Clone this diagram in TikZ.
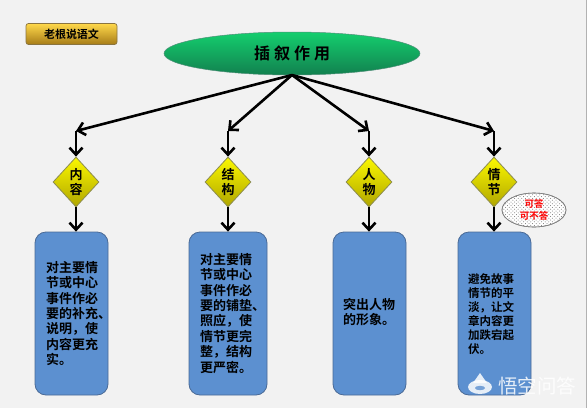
\documentclass[tikz,border=0pt]{standalone}
\usepackage{fontspec}
\newfontfamily\cjk{Noto Sans CJK SC}[BoldFont={Noto Sans CJK SC Bold}]
\usetikzlibrary{shapes.geometric,arrows.meta,shadings}
\definecolor{bg}{HTML}{F2F2F2}
\definecolor{cardblue}{HTML}{5C90D0}
\definecolor{cardedge}{HTML}{4A6A96}
\definecolor{ytop}{HTML}{FBF800}
\definecolor{ymid}{HTML}{EDE800}
\definecolor{ybot}{HTML}{B0A600}
\definecolor{yedge}{HTML}{8C8C50}
\definecolor{gtop}{HTML}{14CF6E}
\definecolor{gmid}{HTML}{12B562}
\definecolor{gbot}{HTML}{12804F}
\definecolor{gedge}{HTML}{4F8F78}
\definecolor{btop}{HTML}{FFD84A}
\definecolor{bmid}{HTML}{ECB428}
\definecolor{bbot}{HTML}{A67C18}
\definecolor{bedge}{HTML}{8A7440}
\tikzset{
  x=1pt,y=-1pt,
  conn/.style={line width=2.6pt,draw=black,-{Straight Barb[length=7pt,width=13pt,line width=2.6pt]}},
  dia/.style={diamond,draw=yedge,line width=0.8pt,top color=ytop,middle color=ymid,bottom color=ybot,minimum width=46pt,minimum height=50pt,inner sep=0pt,align=center,font=\cjk\bfseries\fontsize{13}{15}\selectfont,text=black},
  card/.style={rounded corners=11pt,draw=cardedge,line width=0.8pt,fill=cardblue,minimum width=73pt,minimum height=163pt,inner sep=0pt},
  cardtext/.style={align=left,inner sep=0pt,text=black,font=\cjk\bfseries\fontsize{13}{15.4}\selectfont},
  spot/.style={ellipse,draw=black!50,line width=0.6pt,minimum width=64pt,minimum height=34pt,inner sep=0pt},
}
\begin{document}
\begin{tikzpicture}
\useasboundingbox (0,0) rectangle (587,408);
\fill[bg] (0,0) rectangle (587,408);
\fill[black!30] (585.5,0) rectangle (587,408);
% title button
\node[draw=bedge,line width=0.7pt,rounded corners=2.5pt,top color=btop,middle color=bmid,bottom color=bbot,minimum width=91pt,minimum height=21pt,inner sep=0pt,font=\cjk\bfseries\fontsize{11}{12}\selectfont] (btn) at (71.5,34) {老根说语文};
% ellipse
\node[ellipse,draw=gedge,line width=0.5pt,top color=gtop,middle color=gmid,bottom color=gbot,minimum width=256pt,minimum height=43pt,inner sep=0pt,font=\cjk\bfseries\fontsize{16}{18}\selectfont] (main) at (292,53.5) {插\hspace{4pt}叙\hspace{4pt}作\hspace{4pt}用};
\coordinate (hub) at (292,75);
% diamonds
\node[dia] (d1) at (76,182) {内\\容};
\node[dia] (d2) at (228,182) {结\\构};
\node[dia] (d3) at (369,182) {人\\物};
\node[dia] (d4) at (494,182) {情\\节};
% junctions
\coordinate (j1) at (76,131);
\coordinate (j2) at (228,131);
\coordinate (j3) at (369,131);
\coordinate (j4) at (494,131);
% cards
\node[card] (c1) at (71.5,313.5) {};
\node[card,minimum width=78pt] (c2) at (228,313.5) {};
\node[card] (c3) at (369.5,313.5) {};
\node[card] (c4) at (494.5,313.5) {};
\node[cardtext,anchor=north west] (t1) at (46,261) {对主要情\\节或中心\\事件作必\\要的补充、\\说明，使\\内容更充\\实。};
\node[cardtext,anchor=north west] (t2) at (200,253) {对主要情\\节或中心\\事件作必\\要的铺垫、\\照应，使\\情节更完\\整，结构\\更严密。};
\node[cardtext,anchor=north west] (t3) at (343,298) {突出人物\\的形象。};
\node[cardtext,anchor=north west,font=\cjk\bfseries\fontsize{11.5}{14}\selectfont] (t4) at (468,273) {避免故事\\情节的平\\淡，让文\\章内容更\\加跌宕起\\伏。};
% connectors
\foreach \j in {1,2,3,4}{
  \draw[conn] (hub) -- (j\j);
  \draw[conn] (j\j) -- (d\j.north);
  \draw[conn] (d\j.south) -- (d\j.south |- c\j.north);
}
% callout
\node[spot,fill=white] (cl) at (534,210) {};
\begin{scope}
  \clip (534,210) ellipse (32pt and 17pt);
  \foreach \a in {0,...,18}{\foreach \b in {0,...,10}{
    \fill[black!55] ({502+\a*3.6},{193+\b*3.6}) circle (0.5pt);
    \fill[black!55] ({503.8+\a*3.6},{194.8+\b*3.6}) circle (0.5pt);
  }}
\end{scope}
\node[spot,align=center,text=red,font=\cjk\bfseries\fontsize{9.5}{12}\selectfont] (cltext) at (534,210) {可答\\可不答};
% watermark
\fill[white,opacity=.85] (480,387) ellipse (12pt and 7pt);
\fill[white,opacity=.85] (480,373) -- (473,383) -- (487,383) -- cycle;
\fill[cardblue,opacity=.8] (480,388) ellipse (5pt and 2.2pt);
\node[text=white,opacity=.85,inner sep=0pt,font=\cjk\fontsize{19.5}{20}\selectfont] (wm) at (537,386) {悟空问答};
\end{tikzpicture}
\end{document}
